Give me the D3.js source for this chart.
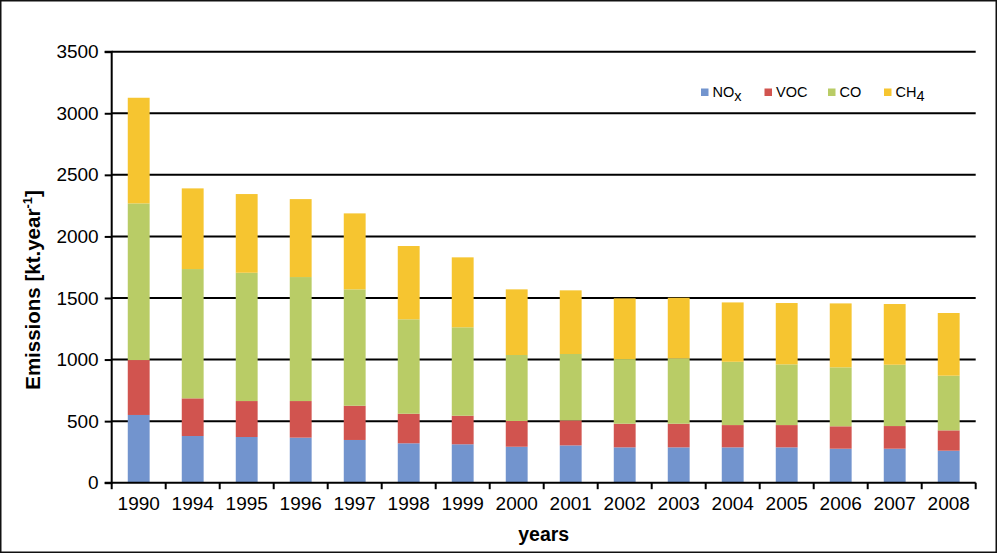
<!DOCTYPE html>
<html><head><meta charset="utf-8">
<script src="https://cdn.jsdelivr.net/npm/d3@7"></script>
<style>
html,body{margin:0;padding:0;background:#fff;}
svg text{font-family:"Liberation Sans",Arial,sans-serif;fill:#000;}
</style></head>
<body><svg id="chart" width="998" height="554"></svg>
<script>
const years = ["1990","1994","1995","1996","1997","1998","1999","2000","2001","2002","2003","2004","2005","2006","2007","2008"];
const NOx = [550,379,371,366,347,320,312,292,303,287,287,287,287,276,276,260];
const VOC = [446,306,292,297,278,240,232,209,203,192,192,181,181,182,184,165];
const CO  = [1272,1050,1042,1007,945,767,718,536,539,525,531,514,493,479,498,444];
const CH4 = [858,655,639,633,617,595,568,533,517,493,492,482,498,519,493,509];
const yTicks = [0,500,1000,1500,2000,2500,3000,3500];
const seriesNames = ["NOx","VOC","CO","CH4"];
const seriesColors = ["#7294CE","#D1544F","#B9CC66","#F6C530"];

const svg = d3.select("#chart");
const W = 998, H = 554;
const L = 111.7, R = 975.7, T = 51.7, B = 482.7;

svg.append("rect").attr("x",0.75).attr("y",0.75).attr("width",W-2.5).attr("height",H-2.5)
  .attr("fill","#fff").attr("stroke","#111").attr("stroke-width",1.5);

const x = d3.scaleBand().domain(years).range([L,R]).paddingInner(0.595).paddingOuter(0.2975);
const y = d3.scaleLinear().domain([0,3500]).range([B,T]);

// gridlines
svg.append("g").selectAll("line").data(yTicks.filter(d=>d>0)).join("line")
  .attr("x1",L).attr("x2",R).attr("y1",d=>y(d)).attr("y2",d=>y(d))
  .attr("stroke","#000").attr("stroke-width",2);

// stacked data
const rows = years.map((yr,i)=>({year:yr,NOx:NOx[i],VOC:VOC[i],CO:CO[i],CH4:CH4[i]}));
const stack = d3.stack().keys(seriesNames)(rows);
svg.append("g").selectAll("g").data(stack).join("g")
  .attr("fill",(d,i)=>seriesColors[i])
  .selectAll("rect").data(d=>d).join("rect")
  .attr("x",d=>x(d.data.year)).attr("width",x.bandwidth())
  .attr("y",d=>y(d[1])).attr("height",d=>y(d[0])-y(d[1]));

// y axis
const yAxis = d3.axisLeft(y).tickValues(yTicks).tickFormat(d3.format("d")).tickSize(7).tickPadding(6);
const gy = svg.append("g").attr("transform",`translate(${L},0)`).call(yAxis);
gy.select(".domain").attr("stroke","#000").attr("stroke-width",2).attr("d",`M-7,${B}H0V${T}H-7`);
gy.selectAll(".tick line").attr("stroke","#000").attr("stroke-width",2);
gy.selectAll("text").attr("font-size","19px").attr("font-family","Liberation Sans, Arial, sans-serif").attr("fill","#000");

// x axis
const xAxis = d3.axisBottom(x).tickSize(0).tickPadding(14);
const gx = svg.append("g").attr("transform",`translate(0,${B})`).call(xAxis);
gx.select(".domain").attr("stroke","#000").attr("stroke-width",2).attr("d",`M${L},0H${R}`);
gx.selectAll("text").attr("font-size","19px").attr("font-family","Liberation Sans, Arial, sans-serif").attr("fill","#000");
// boundary ticks
const step = x.step();
const bounds = d3.range(years.length+1).map(i=>x(years[0]) - x.paddingOuter()*step + i*step);
svg.append("g").selectAll("line").data(bounds).join("line")
  .attr("x1",d=>d).attr("x2",d=>d).attr("y1",B).attr("y2",B+6.5)
  .attr("stroke","#000").attr("stroke-width",2);

// axis titles
const yt = svg.append("text").attr("transform","translate(40,290) rotate(-90)")
  .attr("text-anchor","middle").attr("font-size","20.5px").attr("font-weight","bold");
yt.append("tspan").text("Emissions [kt.year");
yt.append("tspan").attr("font-size","13px").attr("dy","-8").text("-1");
yt.append("tspan").attr("dy","8").text("]");

svg.append("text").attr("x",(L+R)/2).attr("y",541).attr("text-anchor","middle")
  .attr("font-size","19.5px").attr("font-weight","bold").text("years");

// legend
const legX = [701,764.5,828,884];
const leg = svg.append("g");
seriesNames.forEach((s,i)=>{
  leg.append("rect").attr("x",legX[i]).attr("y",88.5).attr("width",7.5).attr("height",7.5).attr("fill",seriesColors[i]);
  const t = leg.append("text").attr("x",legX[i]+11.5).attr("y",97).attr("font-size","14.5px");
  if(s==="NOx"){ t.append("tspan").text("NO"); t.append("tspan").attr("dy","4").text("x"); }
  else if(s==="CH4"){ t.append("tspan").text("CH"); t.append("tspan").attr("dy","4").text("4"); }
  else t.text(s);
});
</script></body></html>
